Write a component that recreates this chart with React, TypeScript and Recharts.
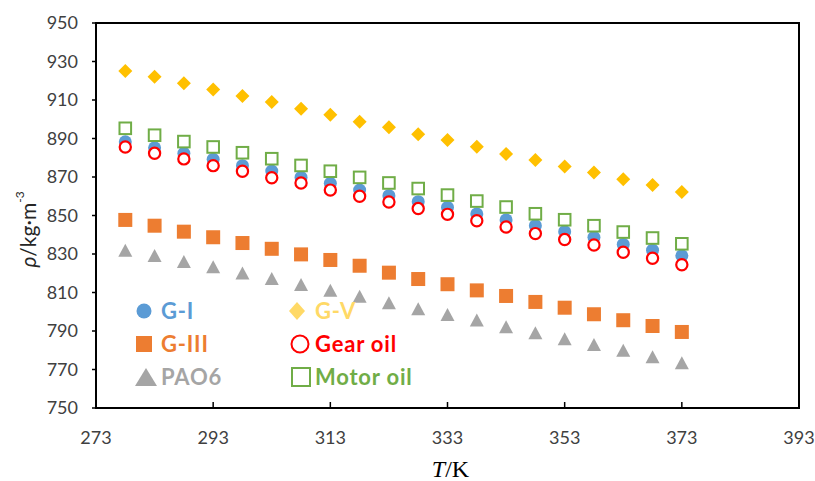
import {
  ScatterChart,
  Scatter,
  XAxis,
  YAxis,
  Legend,
  ReferenceArea,
} from "recharts";

const temps = [278, 283, 288, 293, 298, 303, 308, 313, 318, 323, 328, 333, 338, 343, 348, 353, 358, 363, 368, 373];

const gI = [888.3, 885.2, 882.3, 879.2, 875.9, 873.1, 869.8, 866.7, 863.2, 860.3, 857.2, 854.2, 850.8, 847.7, 844.7, 841.6, 838.7, 835.0, 832.0, 829.1];
const gIII = [847.7, 844.7, 841.6, 838.7, 835.7, 832.7, 829.8, 826.9, 823.9, 820.3, 817.0, 814.3, 811.1, 808.2, 805.1, 802.1, 798.7, 795.6, 792.6, 789.5];
const pao6 = [831.7, 829.0, 825.8, 823.1, 819.9, 817.0, 813.9, 810.9, 807.8, 804.4, 801.3, 798.3, 795.4, 791.9, 788.8, 785.7, 782.7, 779.8, 776.3, 773.2];
const gV = [925.1, 922.1, 918.7, 915.5, 912.1, 909.0, 905.5, 902.4, 898.7, 895.8, 892.2, 889.2, 885.7, 882.0, 878.8, 875.4, 872.4, 868.8, 865.8, 862.2];
const gearOil = [885.6, 882.3, 879.4, 875.9, 873.0, 869.6, 866.9, 863.2, 860.0, 857.0, 853.6, 850.6, 847.3, 844.0, 840.6, 837.5, 834.7, 830.9, 827.8, 824.4];
const motorOil = [895.3, 891.7, 888.4, 885.6, 882.6, 879.5, 876.0, 873.0, 869.8, 866.9, 864.0, 860.6, 857.5, 854.4, 850.9, 847.8, 844.7, 841.4, 838.3, 835.3];

const xTicks = [273, 293, 313, 333, 353, 373, 393];
const yTicks = [750, 770, 790, 810, 830, 850, 870, 890, 910, 930, 950];

const toPoints = (vals: number[]) => temps.map((t, i) => ({ t, v: vals[i] }));

const FONT = "Lato, 'Open Sans', sans-serif";

// marker shapes, Excel style
const Dot = ({ cx, cy }: any) => <circle cx={cx} cy={cy} r={6.5} fill="#5B9BD5" />;
const Diamond = ({ cx, cy }: any) => (
  <polygon points={`${cx},${cy - 7} ${cx + 7},${cy} ${cx},${cy + 7} ${cx - 7},${cy}`} fill="#FFC000" />
);
const Square = ({ cx, cy }: any) => (
  <rect x={cx - 7} y={cy - 7} width={14} height={14} fill="#ED7D31" />
);
const Triangle = ({ cx, cy }: any) => (
  <polygon points={`${cx},${cy - 7} ${cx + 7},${cy + 6} ${cx - 7},${cy + 6}`} fill="#A5A5A5" />
);
const Ring = ({ cx, cy }: any) => (
  <circle cx={cx} cy={cy} r={5.6} fill="#fff" stroke="#FF0000" strokeWidth={2.2} />
);
const OpenSquare = ({ cx, cy }: any) => (
  <rect x={cx - 5.8} y={cy - 5.8} width={11.6} height={11.6} fill="#fff" stroke="#70AD47" strokeWidth={2} />
);

const legendItems = [
  { name: "G-I", color: "#5B9BD5", icon: <circle cx={12} cy={11} r={7.5} fill="#5B9BD5" /> },
  { name: "G-V", color: "#FFD966", icon: <polygon points="11,2 19,11 11,20 3,11" fill="#FFD966" /> },
  { name: "G-III", color: "#ED7D31", icon: <rect x={4} y={3} width={16} height={16} fill="#ED7D31" /> },
  { name: "Gear oil", color: "#FF0000", icon: <circle cx={14} cy={11} r={8.5} fill="none" stroke="#FF0000" strokeWidth={2} /> },
  { name: "PAO6", color: "#A5A5A5", icon: <polygon points="14,2 25,20 3,20" fill="#A5A5A5" /> },
  { name: "Motor oil", color: "#70AD47", icon: <rect x={6} y={2} width={18} height={18} fill="none" stroke="#70AD47" strokeWidth={2} /> },
];

const renderLegend = () => (
  <div
    style={{
      display: "grid",
      gridTemplateColumns: "154px 200px",
      rowGap: 6,
      fontFamily: FONT,
      fontSize: 22,
      fontWeight: 700,
      letterSpacing: 0.8,
    }}
  >
    {legendItems.map((it) => (
      <div key={it.name} style={{ display: "flex", alignItems: "center", height: 27 }}>
        <svg width={27} height={22} style={{ marginRight: 2 }}>
          {it.icon}
        </svg>
        <span style={{ color: it.color }}>{it.name}</span>
      </div>
    ))}
  </div>
);

const XTick = ({ x, y, payload }: any) => (
  <g>
    <line x1={x} y1={y} x2={x} y2={y - 6} stroke="#000" strokeWidth={1.5} />
    <text x={x} y={y + 29} textAnchor="middle" dominantBaseline="central" fill="#404040" fontSize={18} fontFamily={FONT}>
      {payload.value}
    </text>
  </g>
);

const YLabel = ({ viewBox }: any) => {
  const cx = 27;
  const cy = viewBox.y + viewBox.height / 2 + 14;
  return (
    <text
      x={cx}
      y={cy}
      transform={`rotate(-90, ${cx}, ${cy})`}
      textAnchor="middle"
      dominantBaseline="central"
      fill="#262626"
      fontSize={21}
      fontFamily={FONT}
    >
      <tspan fontStyle="italic">ρ</tspan>
      <tspan>/kg·m</tspan>
      <tspan fontSize={12} dy={-8}>-3</tspan>
    </text>
  );
};

const XLabel = ({ viewBox }: any) => {
  const cx = viewBox.x + viewBox.width / 2 + 3;
  return (
    <text x={cx} y={477} textAnchor="middle" fill="#000" fontSize={24} fontFamily="'Liberation Serif', 'DejaVu Serif', serif">
      <tspan fontStyle="italic">T</tspan>
      <tspan>/K</tspan>
    </text>
  );
};

export default function App() {
  return (
    <div style={{ position: "absolute", left: 0, top: 0, background: "#fff" }}>
      <ScatterChart width={815} height={481} margin={{ top: 23, right: 16, bottom: 0, left: 0 }}>
        <XAxis
          type="number"
          dataKey="t"
          domain={[273, 393]}
          ticks={xTicks}
          interval={0}
          height={73}
          tickSize={0}
          tickMargin={0}
          tickLine={false}
          tick={<XTick />}
          axisLine={{ stroke: "#000", strokeWidth: 2 }}
          label={<XLabel />}
        />
        <YAxis
          type="number"
          dataKey="v"
          domain={[750, 950]}
          ticks={yTicks}
          interval={0}
          width={96}
          tickSize={4}
          tickMargin={14}
          tickLine={{ stroke: "#000", strokeWidth: 1.5 }}
          tick={{ fill: "#404040", fontSize: 18, fontFamily: FONT }}
          axisLine={{ stroke: "#000", strokeWidth: 2 }}
          label={<YLabel />}
        />
        <ReferenceArea x1={273} x2={393} y1={750} y2={950} fill="none" stroke="#000" strokeWidth={2} />
        <Legend
          layout="horizontal"
          verticalAlign="middle"
          align="center"
          content={renderLegend}
          wrapperStyle={{ position: "absolute", left: 132, top: 297, width: 380 }}
        />
        <Scatter name="G-I" data={toPoints(gI)} shape={<Dot />} isAnimationActive={false} />
        <Scatter name="G-III" data={toPoints(gIII)} shape={<Square />} isAnimationActive={false} />
        <Scatter name="PAO6" data={toPoints(pao6)} shape={<Triangle />} isAnimationActive={false} />
        <Scatter name="G-V" data={toPoints(gV)} shape={<Diamond />} isAnimationActive={false} />
        <Scatter name="Gear oil" data={toPoints(gearOil)} shape={<Ring />} isAnimationActive={false} />
        <Scatter name="Motor oil" data={toPoints(motorOil)} shape={<OpenSquare />} isAnimationActive={false} />
      </ScatterChart>
    </div>
  );
}
